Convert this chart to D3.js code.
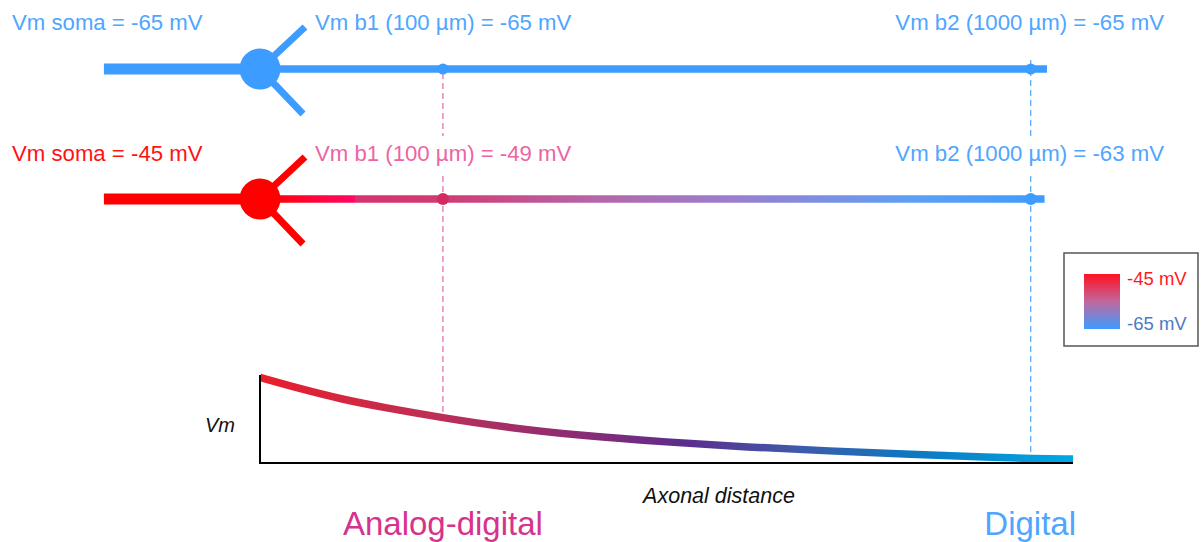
<!DOCTYPE html>
<html>
<head>
<meta charset="utf-8">
<script src="https://cdn.jsdelivr.net/npm/d3@7"></script>
<style>
  html, body { margin: 0; padding: 0; background: #fff; }
  svg { display: block; font-family: "Liberation Sans", Arial, sans-serif; }
</style>
</head>
<body>
<div id="chart"></div>
<script>
// recording sites along the axon (schematic distance units, 0 = soma)
const sites = ["soma", "b1 (100 µm)", "b2 (1000 µm)"];
const sitePos = [0, 22.5, 94.8];
const restVm = [-65, -65, -65];
const depolVm = [-45, -49, -63];
const restColors = ["#4ea6ff", "#4ea6ff", "#4ea6ff"];
const depolColors = ["#ff1111", "#ec64a4", "#4ea6ff"];

// Vm decay along the axon (bottom plot)
const curveDist = [0, 5, 10, 15, 22.5, 30, 40, 50, 60, 70, 80, 90, 95, 100];
const curveVm = [-45.1, -47.8, -50.2, -52.1, -54.6, -56.8, -58.9, -60.3, -61.5, -62.4, -63.2, -63.9, -64.2, -64.3];

const legendVm = [-45, -65];
const zones = ["Analog-digital", "Digital"];
const zonePos = [22.5, 94.8];
const zoneColors = ["#d6338c", "#4ea6ff"];

const width = 1201, height = 542;

const svg = d3.select("#chart").append("svg")
    .attr("width", width)
    .attr("height", height);

const defs = svg.append("defs");

let x = d3.scaleLinear().domain([0, 100]).range([260, 1073]);
let y = d3.scaleLinear().domain([-65, -45]).range([462, 377]);
let row = d3.scalePoint().domain(["rest", "depol"]).range([69, 199]);

// ---- gradients
function linGrad(id, x1, x2, stops, vertical) {
    let g = defs.append("linearGradient")
        .attr("id", id)
        .attr("gradientUnits", "userSpaceOnUse");
    if (vertical) {
        g.attr("x1", 0).attr("x2", 0).attr("y1", x1).attr("y2", x2);
    } else {
        g.attr("x1", x1).attr("x2", x2).attr("y1", 0).attr("y2", 0);
    }
    g.selectAll("stop").data(stops).enter().append("stop")
        .attr("offset", d => d[0])
        .attr("stop-color", d => d[1]);
}
const split = 11.8, axonEnd = 96.8;
linGrad("proxGrad", x(0), x(split), [[0, "#ff0000"], [1, "#ff0a66"]]);
linGrad("distGrad", x(split), x(axonEnd), [[0, "#d6336e"], [0.12, "#d23a72"], [0.35, "#b566aa"], [0.55, "#9a7fd0"], [0.8, "#5f9ff5"], [1, "#3d9cff"]]);
linGrad("curveGrad", x(0), x(100), [[0, "#ea1e2a"], [0.22, "#bc2f58"], [0.42, "#822c78"], [0.52, "#5c2c8e"], [0.66, "#3f5aa8"], [0.8, "#0e77c0"], [1, "#00a8e6"]]);
linGrad("legGrad", 274, 329, [[0, "#ff1020"], [0.5, "#c0689c"], [1, "#3d9cff"]], true);

// ---- dashed guide lines from the branch points down to the curve
const guideColors = [null, "#e466a8", "#4ea6ff"];
const vmAt = d3.scaleLinear().domain(curveDist).range(curveVm);
[1, 2].forEach(function(i) {
    let segs = [[i === 1 ? row("rest") + 4 : row("rest") - 9, 136], [176, y(vmAt(sitePos[i])) - 4]];
    segs.forEach(function(s) {
        svg.append("line")
            .attr("x1", x(sitePos[i])).attr("x2", x(sitePos[i]))
            .attr("y1", s[0]).attr("y2", s[1])
            .attr("stroke", guideColors[i])
            .attr("stroke-width", 1.2)
            .attr("stroke-dasharray", "6,4");
    });
});

// ---- neuron drawings
function neuron(ry, color, axonFill) {
    let g = svg.append("g");
    let sx = x(0);
    // dendrites
    g.append("line").attr("x1", sx).attr("y1", ry).attr("x2", sx + 45).attr("y2", ry - 42)
        .attr("stroke", color).attr("stroke-width", 7);
    g.append("line").attr("x1", sx).attr("y1", ry).attr("x2", sx + 43).attr("y2", ry + 45)
        .attr("stroke", color).attr("stroke-width", 7);
    // thick proximal process
    g.append("line").attr("x1", x(-19.2)).attr("x2", sx).attr("y1", ry).attr("y2", ry)
        .attr("stroke", color).attr("stroke-width", 11);
    axonFill(g, ry);
    g.append("circle").attr("cx", sx).attr("cy", ry).attr("r", 20.5).attr("fill", color);
    return g;
}

neuron(row("rest"), "#3d9cff", function(g, ry) {
    g.append("line").attr("x1", x(0)).attr("x2", x(axonEnd)).attr("y1", ry).attr("y2", ry)
        .attr("stroke", "#3d9cff").attr("stroke-width", 7.5);
});
neuron(row("depol"), "#ff0000", function(g, ry) {
    g.append("rect").attr("x", x(0)).attr("y", ry - 3.75).attr("width", x(split) - x(0)).attr("height", 7.5)
        .attr("fill", "url(#proxGrad)");
    g.append("rect").attr("x", x(split)).attr("y", ry - 3.75).attr("width", x(axonEnd - 0.3) - x(split)).attr("height", 7.5)
        .attr("fill", "url(#distGrad)");
});

// branch point dots
const dotColorsDepol = [null, "#d42a62", "#3d9cff"];
svg.append("g").selectAll("circle.rest")
    .data(sitePos.slice(1))
    .enter().append("circle")
    .attr("cx", d => x(d)).attr("cy", row("rest")).attr("r", 5.5)
    .attr("fill", "#3d9cff");
svg.append("g").selectAll("circle.depol")
    .data(sitePos.slice(1))
    .enter().append("circle")
    .attr("cx", d => x(d)).attr("cy", row("depol")).attr("r", 6)
    .attr("fill", (d, i) => dotColorsDepol[i + 1]);

// ---- Vm labels
const labelX = [12, 315, 1164];
const anchors = ["start", "start", "end"];
function labels(vals, colors, base) {
    svg.append("g").selectAll("text")
        .data(vals)
        .enter().append("text")
        .attr("x", (d, i) => labelX[i])
        .attr("y", base)
        .attr("text-anchor", (d, i) => anchors[i])
        .attr("font-size", 22.2)
        .attr("fill", (d, i) => colors[i])
        .text((d, i) => "Vm " + sites[i] + " = " + d + " mV");
}
labels(restVm, restColors, 30);
labels(depolVm, depolColors, 161);

// ---- legend
svg.append("rect").attr("x", 1064).attr("y", 253).attr("width", 134).attr("height", 93)
    .attr("fill", "#fff").attr("stroke", "#555").attr("stroke-width", 1.5);
svg.append("rect").attr("x", 1084).attr("y", 274).attr("width", 36).attr("height", 55)
    .attr("fill", "url(#legGrad)");
svg.append("g").selectAll("text")
    .data(legendVm)
    .enter().append("text")
    .attr("x", 1127)
    .attr("y", (d, i) => i === 0 ? 285 : 330)
    .attr("font-size", 18.5)
    .attr("fill", (d, i) => i === 0 ? "#ff1a1a" : "#4a7ac6")
    .text(d => d + " mV");

// ---- Vm vs distance plot
const pts = curveDist.map((d, i) => ({dist: d, vm: curveVm[i]}));
svg.append("path")
    .datum(pts)
    .attr("fill", "none")
    .attr("stroke", "url(#curveGrad)")
    .attr("stroke-width", 7.5)
    .attr("d", d3.line()
        .curve(d3.curveBasis)
        .x(function(d) { return x(d.dist) })
        .y(function(d) { return y(d.vm) })
    );

// axes (plain L shape, no ticks)
svg.append("path")
    .attr("d", "M" + x(0) + "," + 375 + "V" + 463 + "H" + x(100))
    .attr("fill", "none")
    .attr("stroke", "#000")
    .attr("stroke-width", 2);

svg.append("text").attr("x", 205).attr("y", 432)
    .attr("font-size", 20).attr("font-style", "italic").attr("fill", "#111")
    .text("Vm");
svg.append("text").attr("x", 719).attr("y", 503)
    .attr("text-anchor", "middle")
    .attr("font-size", 21.5).attr("font-style", "italic").attr("fill", "#111")
    .text("Axonal distance");

svg.append("g").selectAll("text")
    .data(zones)
    .enter().append("text")
    .attr("x", (d, i) => i === 0 ? x(zonePos[i]) : 1076)
    .attr("y", 535)
    .attr("text-anchor", (d, i) => i === 0 ? "middle" : "end")
    .attr("font-size", 33)
    .attr("fill", (d, i) => zoneColors[i])
    .text(d => d);
</script>
</body>
</html>
